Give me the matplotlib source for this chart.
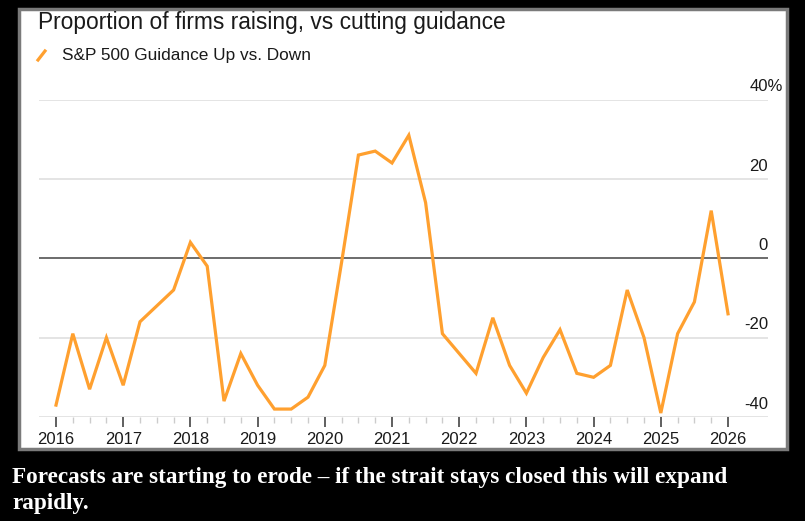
import numpy as np
import matplotlib.pyplot as plt
from matplotlib.patches import Rectangle
from matplotlib.lines import Line2D
from matplotlib.transforms import offset_copy

# quarterly readings, 2016 Q1 .. 2026 Q1
quarters = np.arange(2016.0, 2026.01, 0.25)
guidance = [-37, -19, -33, -20, -32,
            -16, -12, -8, 4, -2,
            -36, -24, -32, -38, -38,
            -35, -27, -1, 26, 27,
            24, 31, 14, -19, -24,
            -29, -15, -27, -34, -25,
            -18, -29, -30, -27, -8,
            -20, -39, -19, -11, 12,
            -14]
year_ticks = np.arange(2016, 2027)
y_ticks = [40, 20, 0, -20, -40]

orange = '#ffa02f'
W, H = 805, 521

fig = plt.figure(figsize=(8.05, 5.21), dpi=100)
fig.patch.set_facecolor('black')

# white panel with grey border
fig.patches.append(Rectangle((19 / W, 1 - 449 / H), (787 - 19) / W, (449 - 9) / H,
                             transform=fig.transFigure, facecolor='white',
                             edgecolor='#7a7a7a', linewidth=2.5, zorder=-5))

ax = fig.add_axes([39 / W, 1 - 417 / H, (768 - 39) / W, (417 - 99.5) / H])
ax.set_zorder(2)
ax.patch.set_alpha(0)
ax.set_xlim(2015.747, 2026.595)
ax.set_ylim(-40, 40)

for v in y_ticks:
    if v == 0:
        ax.axhline(v, color='#444444', lw=1.1, zorder=2)
    else:
        ax.axhline(v, color='#e2e2e2', lw=1.3, zorder=1)

ax.plot(quarters, guidance, color=orange, lw=2.3, solid_joinstyle='miter', zorder=3,
        clip_on=False)

for s in ax.spines.values():
    s.set_visible(False)

ax.set_yticks([])
ax.set_xticks(year_ticks)
ax.set_xticklabels([str(y) for y in year_ticks], fontsize=12, color='#1a1a1a',
                   family='Liberation Sans')
ax.set_xticks(quarters, minor=True)
ax.tick_params(axis='x', which='major', length=7, width=1.2, color='#444444', pad=3.5)
ax.tick_params(axis='x', which='minor', length=4, width=1.0, color='#cccccc')

ytrans = ax.get_yaxis_transform()
pct_trans = offset_copy(ytrans, fig=fig, x=15, y=0, units='dots')
for v in y_ticks:
    label = f'{v}%' if v == 40 else str(v)
    ax.text(1.0, v + 1.3, label, transform=pct_trans if v == 40 else ytrans,
            ha='right', va='bottom', fontsize=12, color='#1a1a1a',
            family='Liberation Sans')

fig.text(38 / W, 1 - 23 / H, 'Proportion of firms raising, vs cutting guidance',
         fontsize=16.4, color='#1a1a1a', family='Liberation Sans', va='center', ha='left')
fig.lines.append(Line2D([38 / W, 45 / W], [1 - 60 / H, 1 - 51 / H], transform=fig.transFigure,
                        color=orange, lw=2.3))
fig.text(62 / W, 1 - 55.5 / H, 'S&P 500 Guidance Up vs. Down', fontsize=12.4,
         color='#1a1a1a', family='Liberation Sans', va='center', ha='left')

fig.text(12 / W, 1 - 477 / H,
         'Forecasts are starting to erode \u2013 if the strait stays closed this will expand',
         fontsize=16.7, color='white', family='Liberation Serif', fontweight='bold',
         va='center', ha='left')
fig.text(12 / W, 1 - 504 / H, 'rapidly.', fontsize=16.7, color='white',
         family='Liberation Serif', fontweight='bold', va='center', ha='left')

fig.savefig('out.png', dpi=100, facecolor=fig.get_facecolor())
